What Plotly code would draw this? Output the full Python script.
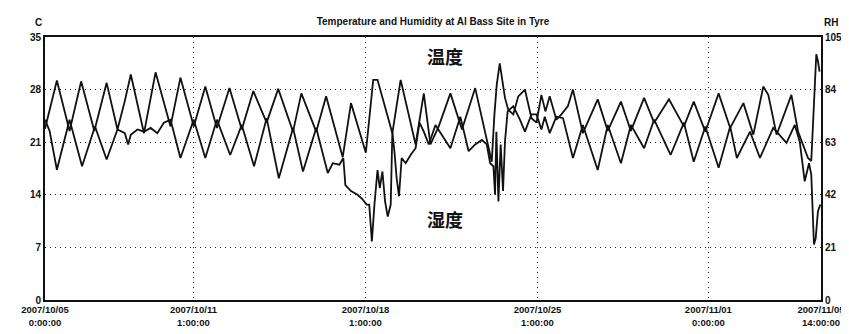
import pandas as pd
import plotly.graph_objects as go

START = "2007-10-05 00:00"
END = "2007-11-05 14:00"

# Temperature (C) turning points: hours since 2007/10/05 0:00, value
temp_hours = [0, 4, 11.6, 24.0, 35.3, 48.2, 60.2, 70.8, 78, 83.8, 96.7, 108.0, 122.6, 132.3,
              145.3, 156.6, 167.9, 180.2, 192.2, 203.5, 216.5, 227.8, 242.3, 250.4, 264.9,
              274.6, 290.8, 298.9, 313.4, 320.6, 324.8, 339.3, 347.4, 362.0, 370.0, 376.5,
              384.6, 396.0, 407.3, 420.2, 428.3, 433.2, 436.4, 439.0, 441.3, 444.2, 446.8,
              449.3, 452.6, 457.4, 462.3, 468.8, 475.2, 480.1, 484.9, 488.8, 493.0, 499.5,
              504.4, 510.8, 515.7, 525.4, 539.9, 549.7, 562.6, 572.3, 585.2, 595.0, 609.5,
              624.1, 633.7, 645.0, 658.0, 669.3, 682.2, 691.9, 701.6, 706.5, 714.6, 729.1,
              735.6, 740.5, 745.3, 748.5, 750.8, 753.4, 755.0, 756.6]
temp_values = [22.8, 25.0, 29.2, 22.5, 29.1, 22.5, 28.9, 22.7, 26.5, 30.0, 22.2, 30.3, 23.1, 29.6,
               23.1, 28.4, 22.9, 28.2, 22.7, 27.8, 23.6, 28.1, 22.4, 27.5, 22.4,
               27.1, 19.0, 26.2, 19.6, 29.3, 29.3, 22.2, 29.3, 20.7, 27.5, 20.7,
               23.1, 27.5, 22.7, 28.2, 23.3, 20.2, 18.4, 24.7, 28.7, 31.5, 29.3,
               26.9, 25.3, 24.7, 27.1, 28.0, 24.2, 23.6, 27.3, 25.1, 27.1, 24.0,
               24.7, 25.8, 28.0, 22.2, 26.7, 22.5, 26.4, 22.5, 26.9, 23.6, 26.7,
               23.1, 26.4, 22.4, 27.5, 22.9, 26.2, 22.0, 28.4, 27.3, 22.0, 27.3,
               22.4, 20.7, 18.9, 18.5, 24.7, 32.7, 31.8, 30.4]

# Relative humidity (%) turning points
rh_hours = [0, 4.5, 11.6, 24.0, 36.2, 48.8, 60.2, 70.8, 78.0, 81.2, 83.8, 90.3, 96.7, 103.2,
            109.7, 116.1, 122.6, 132.3, 145.3, 156.6, 167.9, 180.9, 192.2, 204.2, 216.5,
            228.4, 242.3, 252.0, 264.9, 276.2, 281.1, 287.6, 291.4, 293.4, 298.9, 305.3,
            310.2, 314.1, 316.7, 319.3, 321.8, 324.8, 327.0, 329.6, 332.2, 334.8, 337.7,
            339.3, 341.3, 343.5, 345.8, 348.4, 352.3, 357.1, 362.0, 365.8, 370.0, 374.9,
            381.4, 396.0, 405.7, 413.8, 420.2, 426.7, 431.5, 434.8, 438.0, 439.6, 440.9,
            442.9, 445.1, 447.4, 449.3, 451.9, 457.4, 463.9, 468.8, 475.2, 480.1, 484.9,
            488.2, 493.0, 499.5, 506.0, 515.7, 525.4, 539.9, 549.7, 562.6, 572.3, 585.2,
            595.0, 611.1, 624.1, 633.7, 645.0, 658.0, 669.3, 675.8, 688.7, 698.4, 711.3,
            724.3, 732.4, 737.2, 742.1, 746.3, 748.5, 751.1, 752.8, 755.0, 757.3]
rh_values = [72, 67.5, 52, 72, 53.4, 69.3, 56.1, 68.1, 66.6, 62.1, 66, 68.1, 67.2, 68.7,
             66.6, 70.8, 72, 56.7, 72, 56.7, 72, 57.9, 69.9, 53.4, 72.6,
             48.6, 68.7, 51.3, 68.7, 50.7, 54.6, 54, 56.7, 45.9, 43.5, 42,
             40.2, 38.1, 38.1, 23.4, 38.1, 51.9, 44.7, 51.3, 39.3, 33.3, 38.1,
             67.2, 59.4, 48.6, 41.4, 56.7, 54.6, 57.9, 60.6, 70.8, 67.2, 62.1,
             69.9, 60.6, 73.2, 59.4, 62.1, 63.9, 62.1, 54.6, 53.4, 42, 67.2,
             39.3, 62.1, 43.5, 63.3, 75.3, 77.4, 72, 67.2, 74.1, 74.1, 68.1,
             73.2, 66.6, 73.2, 72.6, 56.7, 69.9, 51.9, 69.9, 54.6, 69.9, 60.6,
             72, 57.9, 70.8, 55.2, 69.3, 52.8, 69.3, 56.7, 67.2, 56.7, 68.7,
             62.7, 69.9, 63.3, 47.4, 54.6, 50.1, 22.2, 24.6, 35.4, 38.1]

tick_dates = ["2007-10-05 00:00", "2007-10-11 01:00", "2007-10-18 01:00",
              "2007-10-25 01:00", "2007-11-01 00:00", "2007-11-05 14:00"]
tick_text = ["2007/10/05<br>0:00:00", "2007/10/11<br>1:00:00", "2007/10/18<br>1:00:00",
             "2007/10/25<br>1:00:00", "2007/11/01<br>0:00:00", "2007/11/05<br>14:00:00"]
temp_ticks = [0, 7, 14, 21, 28, 35]
rh_ticks = [0, 21, 42, 63, 84, 105]

t0 = pd.Timestamp(START)
temp_x = t0 + pd.to_timedelta(temp_hours, unit="h")
rh_x = t0 + pd.to_timedelta(rh_hours, unit="h")

FONT = dict(family="Liberation Sans", size=10, color="#111", weight="bold")
XFONT = dict(family="Liberation Sans", size=9.5, color="#111", weight="bold")
GRID = dict(showgrid=True, gridcolor="#222", gridwidth=1.2, griddash="1px,4px")

fig = go.Figure()
fig.add_trace(go.Scatter(x=temp_x, y=temp_values, mode="lines", name="温度",
                         line=dict(color="#111", width=1.8), yaxis="y"))
fig.add_trace(go.Scatter(x=rh_x, y=rh_values, mode="lines", name="湿度",
                         line=dict(color="#111", width=1.8), yaxis="y2"))

fig.update_layout(
    width=849, height=334,
    margin=dict(l=37, r=31, t=29, b=42),
    paper_bgcolor="white", plot_bgcolor="white",
    showlegend=False,
    font=FONT,
    title=dict(text="Temperature and Humidity at Al Bass Site in Tyre",
               x=0.5, xref="paper", xanchor="center",
               y=1 - 13 / 334, yref="container", yanchor="middle",
               font=dict(family="Liberation Sans", size=10, color="#111", weight="bold")),
    xaxis=dict(type="date", range=[START, END], tickmode="array",
               tickvals=tick_dates, ticktext=tick_text, ticks="",
               showline=True, linecolor="#111", linewidth=2, mirror=True,
               tickfont=XFONT, zeroline=False, **GRID),
    yaxis=dict(range=[0, 35], tickmode="array", tickvals=temp_ticks, ticks="",
               showline=True, linecolor="#111", linewidth=2, mirror=True,
               tickfont=FONT, zeroline=False, **GRID),
    yaxis2=dict(range=[0, 105], tickmode="array", tickvals=rh_ticks, ticks="",
                overlaying="y", side="right", showgrid=False,
                showline=True, linecolor="#111", linewidth=2,
                tickfont=FONT, zeroline=False),
)

fig.add_annotation(text="C", xref="paper", yref="paper", x=-0.009, y=(292 - 14) / 263,
                   showarrow=False, font=FONT, xanchor="center", yanchor="middle")
fig.add_annotation(text="RH", xref="paper", yref="paper", x=1.013, y=(292 - 14) / 263,
                   showarrow=False, font=FONT, xanchor="center", yanchor="middle")
CJK = dict(family="Noto Sans CJK SC", size=18, color="#111", weight="bold")
fig.add_annotation(text="温度", xref="paper", yref="paper", x=0.515, y=0.928,
                   showarrow=False, font=CJK, xanchor="center", yanchor="middle")
fig.add_annotation(text="湿度", xref="paper", yref="paper", x=0.515, y=0.308,
                   showarrow=False, font=CJK, xanchor="center", yanchor="middle")

fig.write_html("out.html")
